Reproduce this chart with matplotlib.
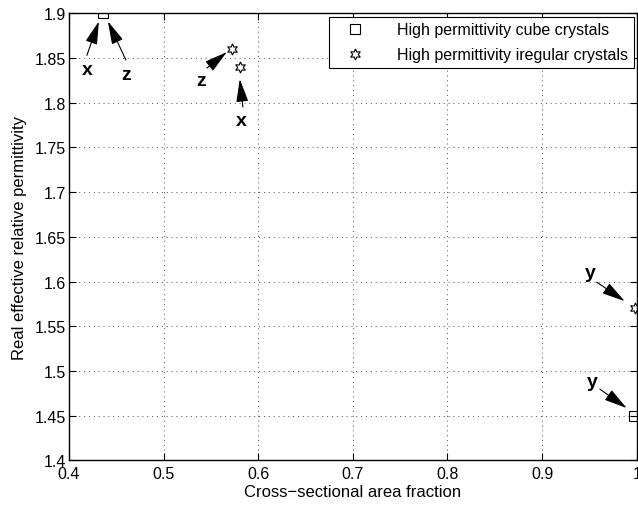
import numpy as np
import matplotlib.pyplot as plt
from matplotlib.patches import ArrowStyle

plt.rcParams['font.family'] = ['Liberation Sans', 'DejaVu Sans']

# data
cube_x = [0.436, 0.997]
cube_y = [1.90, 1.45]
irr_x = [0.5725, 0.5806, 0.998]
irr_y = [1.86, 1.84, 1.57]
xticks = np.arange(0.4, 1.0001, 0.1)
yticks = np.arange(1.4, 1.9001, 0.05)

# annotations: label, text pos, arrow tail, arrow tip
notes = [
    ('x', (0.419, 1.8376), (0.419, 1.853), (0.4317, 1.891)),
    ('z', (0.4602, 1.832), (0.4602, 1.8478), (0.4412, 1.891)),
    ('z', (0.5394, 1.8253), (0.5458, 1.8388), (0.5669, 1.8567)),
    ('x', (0.5817, 1.7806), (0.5838, 1.7952), (0.5806, 1.8265)),
    ('y', (0.9514, 1.6107), (0.9577, 1.5994), (0.9873, 1.5782)),
    ('y', (0.9535, 1.4888), (0.961, 1.4798), (0.9894, 1.4586)),
]

fig = plt.figure(figsize=(6.38, 5.06), dpi=100)
ax = fig.add_axes([0.108, 0.088, 0.890, 0.8837])

ax.plot(cube_x, cube_y, 's', mfc='none', mec='k', ms=7, mew=0.8,
        label='High permittivity cube crystals')
ax.plot(irr_x, irr_y, marker=(6, 1, 0), ls='none', mfc='none', mec='k',
        ms=8, mew=0.8, label='High permittivity iregular crystals')

style = ArrowStyle('-|>', head_length=0.95, head_width=0.25)
for lab, tpos, tail, tip in notes:
    ax.text(tpos[0], tpos[1], lab, fontsize=14, fontweight='bold',
            ha='center', va='center')
    ax.annotate('', xy=tip, xytext=tail,
                arrowprops=dict(arrowstyle=style, mutation_scale=15,
                                lw=0.8, color='k', shrinkA=0, shrinkB=0))

ax.set_xlim(0.4, 1.0)
ax.set_ylim(1.4, 1.9)
ax.set_xticks(xticks)
ax.set_yticks(yticks)
ax.set_xticklabels(['%g' % round(v, 2) for v in xticks])
ax.set_yticklabels(['%g' % round(v, 2) for v in yticks])
ax.tick_params(direction='in', top=True, right=True, labelsize=11.5,
               length=5, width=0.8)
ax.tick_params(axis='x', pad=4)
ax.tick_params(axis='y', pad=2)
ax.grid(True, color='0.3', ls=(0, (1, 4)), lw=0.7)
for s in ax.spines.values():
    s.set_linewidth(1.0)

ax.set_xlabel('Cross\u2212sectional area fraction', fontsize=12, labelpad=2)
ax.set_ylabel('Real effective relative permittivity', fontsize=12, labelpad=6)

leg = ax.legend(loc='upper right', fontsize=11.5, fancybox=False,
                edgecolor='k', framealpha=1, borderpad=0.35,
                handlelength=2.6, handletextpad=1.3, labelspacing=0.65,
                borderaxespad=0.2)
leg.get_frame().set_linewidth(0.8)

fig.savefig('out.png', dpi=100)
